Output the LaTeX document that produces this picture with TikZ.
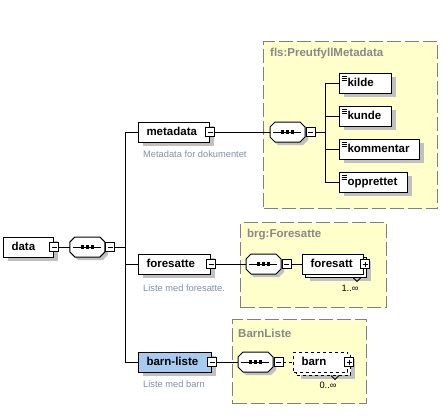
\documentclass[tikz,border=0pt]{standalone}
\usepackage{fontspec}
\setmainfont{Liberation Sans}
\usetikzlibrary{positioning, shadows}

\definecolor{grpfill}{RGB}{255,255,204}
\definecolor{grpline}{RGB}{128,128,128}
\definecolor{grptext}{RGB}{136,136,136}
\definecolor{desctext}{RGB}{128,144,160}
\definecolor{shade}{RGB}{192,192,192}
\definecolor{selfill}{RGB}{166,202,240}

\newcommand{\elemfont}{\fontsize{11.5}{13}\selectfont\bfseries}
\newcommand{\descfont}{\fontsize{9.3}{11}\selectfont}

\newdimen\octx
\newdimen\octy
\makeatletter
\pgfdeclareshape{octbox}{%
	\inheritsavedanchors[from=rectangle]
	\inheritanchorborder[from=rectangle]
	\inheritanchor[from=rectangle]{center}
	\inheritanchor[from=rectangle]{north}
	\inheritanchor[from=rectangle]{south}
	\inheritanchor[from=rectangle]{east}
	\inheritanchor[from=rectangle]{west}
	\inheritanchor[from=rectangle]{north east}
	\inheritanchor[from=rectangle]{north west}
	\inheritanchor[from=rectangle]{south east}
	\inheritanchor[from=rectangle]{south west}
	\backgroundpath{%
		\southwest \pgf@xa=\pgf@x \pgf@ya=\pgf@y
		\northeast \pgf@xb=\pgf@x \pgf@yb=\pgf@y
		\pgf@xc=\pgf@xa \advance\pgf@xc by 5pt
		\pgf@yc=\pgf@ya \advance\pgf@yc by 5pt
		\octx=\pgf@xb \advance\octx by -5pt
		\octy=\pgf@yb \advance\octy by -5pt
		\pgfpathmoveto{\pgfqpoint{\pgf@xa}{\pgf@yc}}%
		\pgfpathlineto{\pgfqpoint{\pgf@xc}{\pgf@ya}}%
		\pgfpathlineto{\pgfqpoint{\octx}{\pgf@ya}}%
		\pgfpathlineto{\pgfqpoint{\pgf@xb}{\pgf@yc}}%
		\pgfpathlineto{\pgfqpoint{\pgf@xb}{\octy}}%
		\pgfpathlineto{\pgfqpoint{\octx}{\pgf@yb}}%
		\pgfpathlineto{\pgfqpoint{\pgf@xc}{\pgf@yb}}%
		\pgfpathlineto{\pgfqpoint{\pgf@xa}{\octy}}%
		\pgfpathclose
	}
}
\makeatother

\tikzset{%
	box/.style={draw, rectangle, fill=white, line width=1pt, minimum height=20pt,
		inner xsep=8pt, inner ysep=0pt, text height=8.5pt, text depth=2.5pt,
		align=left, font=\elemfont},
	elem/.style={box, drop shadow={shadow xshift=4pt, shadow yshift=-4pt, fill=shade, opacity=1}},
	multi/.style={box,
		general shadow={shadow xshift=7pt, shadow yshift=-7pt, fill=shade, draw=none},
		general shadow={shadow xshift=3pt, shadow yshift=-3pt, fill=white, draw=black}},
	simple/.style={path picture={%
		\foreach \k in {3,5,7}
			\draw[line width=0.8pt] ([xshift=2pt, yshift=-\k pt]path picture bounding box.north west) -- ++(5pt,0pt);}},
	seq/.style={draw, shape=octbox, fill=white, line width=1pt,
		minimum width=34pt, minimum height=19pt, inner sep=0pt,
		drop shadow={shadow xshift=3pt, shadow yshift=-3pt, fill=shade, opacity=1},
		path picture={%
			\draw ([xshift=3pt]path picture bounding box.west) -- ([xshift=-4pt]path picture bounding box.east);
			\foreach \d in {-5,0,5}
				\fill[black] ([xshift=\d pt]path picture bounding box.center) +(-1.8pt,-1.8pt) rectangle +(1.8pt,1.8pt);}},
	minusbox/.style={draw, rectangle, fill=white, line width=0.8pt, minimum size=9pt, inner sep=0pt,
		path picture={\draw ([xshift=2pt]path picture bounding box.west) -- ([xshift=-2pt]path picture bounding box.east);}},
	plusbox/.style={draw, rectangle, fill=white, line width=0.8pt, minimum size=9pt, inner sep=0pt,
		path picture={\draw ([xshift=2pt]path picture bounding box.west) -- ([xshift=-2pt]path picture bounding box.east);
			\draw ([yshift=-2pt]path picture bounding box.north) -- ([yshift=2pt]path picture bounding box.south);}},
	grp/.style={draw=grpline, fill=grpfill, line width=1.2pt, dash pattern=on 14pt off 4pt,
		rectangle, inner sep=0pt, anchor=north west},
	grptitle/.style={font=\elemfont, text=grptext, anchor=west, inner sep=0pt},
	desc/.style={font=\descfont, text=desctext, anchor=west, inner sep=0pt},
	mult/.style={font=\descfont, inner sep=0pt},
	connector/.style={line width=1pt},
	opt/.style={connector, dash pattern=on 3pt off 3pt},
	notch/.style={line width=0.8pt}
}

\begin{document}
\begin{tikzpicture}[x=1pt, y=-1pt]
	\useasboundingbox (0,0) rectangle (446,416);

	\node[grp, minimum width=174pt, minimum height=167pt] (flsbox) at (263,41) {};
	\node[grp, minimum width=146pt, minimum height=85pt] (brgbox) at (240,222) {};
	\node[grp, minimum width=134pt, minimum height=84pt] (barnbox) at (232,319) {};
	\node[grptitle] (flstitle) at (270,54) {fls:PreutfyllMetadata};
	\node[grptitle] (brgtitle) at (247,235) {brg:Foresatte};
	\node[grptitle] (barntitle) at (238,333) {BarnListe};

	\node[elem, text width=34pt, anchor=west] (data) at (3,247) {data};
	\node[minusbox] (datamin) at (data.east) {};
	\node[seq, right=11pt of datamin] (seq0) {};
	\node[minusbox, right=0.5pt of seq0] (seq0min) {};
	\coordinate[right=10pt of seq0min] (t0);

	\node[elem, text width=55pt, anchor=west] (metadata) at (138,132) {metadata};
	\node[minusbox] (mdmin) at (metadata.east) {};
	\node[desc] (mddesc) at (143,154) {Metadata for dokumentet};
	\node[seq, anchor=west] (seq1) at (270,132) {};
	\node[minusbox, right=0.5pt of seq1] (seq1min) {};
	\coordinate[right=10pt of seq1min] (t1);
	\node[elem, simple, text width=36pt, anchor=west] (kilde) at (339,83) {kilde};
	\node[elem, simple, text width=36pt, anchor=west] (kunde) at (339,116) {kunde};
	\node[elem, simple, text width=64pt, anchor=west] (kommentar) at (339,149) {kommentar};
	\node[elem, simple, text width=52pt, anchor=west] (opprettet) at (339,182) {opprettet};

	\node[elem, text width=56pt, anchor=west] (foresatte) at (138,264) {foresatte};
	\node[minusbox] (fsmin) at (foresatte.east) {};
	\node[desc] (fsdesc) at (143,288) {Liste med foresatte.};
	\node[seq, anchor=west] (seq2) at (246,264) {};
	\node[minusbox, right=0.5pt of seq2] (seq2min) {};
	\node[multi, text width=45pt, anchor=west] (foresatt) at (302,264) {foresatt};
	\node[plusbox] (fplus) at ([xshift=1pt]foresatt.east) {};
	\node[mult] (fmult) at (350,288) {1..∞};

	\node[elem, fill=selfill, text width=57pt, anchor=west] (barnliste) at (138,362) {barn-liste};
	\node[minusbox] (blmin) at (barnliste.east) {};
	\node[desc] (bldesc) at (143,384) {Liste med barn};
	\node[seq, anchor=west] (seq3) at (238,362) {};
	\node[minusbox, right=0.5pt of seq3] (seq3min) {};
	\node[multi, dashed, text width=38pt, anchor=west] (barn) at (293,362) {barn};
	\node[plusbox] (bplus) at ([xshift=1pt]barn.east) {};
	\node[mult] (bmult) at (328,385) {0..∞};

	\draw[connector] (datamin) -- (seq0);
	\draw[connector] (seq0min) -- (t0);
	\draw[connector] (metadata) -| (t0) |- (barnliste);
	\draw[connector] (t0) |- (foresatte);

	\draw[connector] (mdmin) -- (seq1);
	\draw[connector] (seq1min) -- (t1);
	\draw[connector] (kilde) -| (t1) |- (opprettet);
	\draw[connector] (t1) |- (kunde);
	\draw[connector] (t1) |- (kommentar);

	\draw[connector] (fsmin) -- (seq2);
	\draw[connector] (seq2min) -- (foresatt);
	\draw[notch] ([xshift=-11pt, yshift=-3pt]foresatt.south east) -- ++(4,4) -- ++(4,-4);

	\draw[connector] (blmin) -- (seq3);
	\draw[opt] (seq3min) -- (barn);
	\draw[notch] ([xshift=-17pt, yshift=-3pt]barn.south east) -- ++(4,4) -- ++(4,-4);
\end{tikzpicture}
\end{document}
